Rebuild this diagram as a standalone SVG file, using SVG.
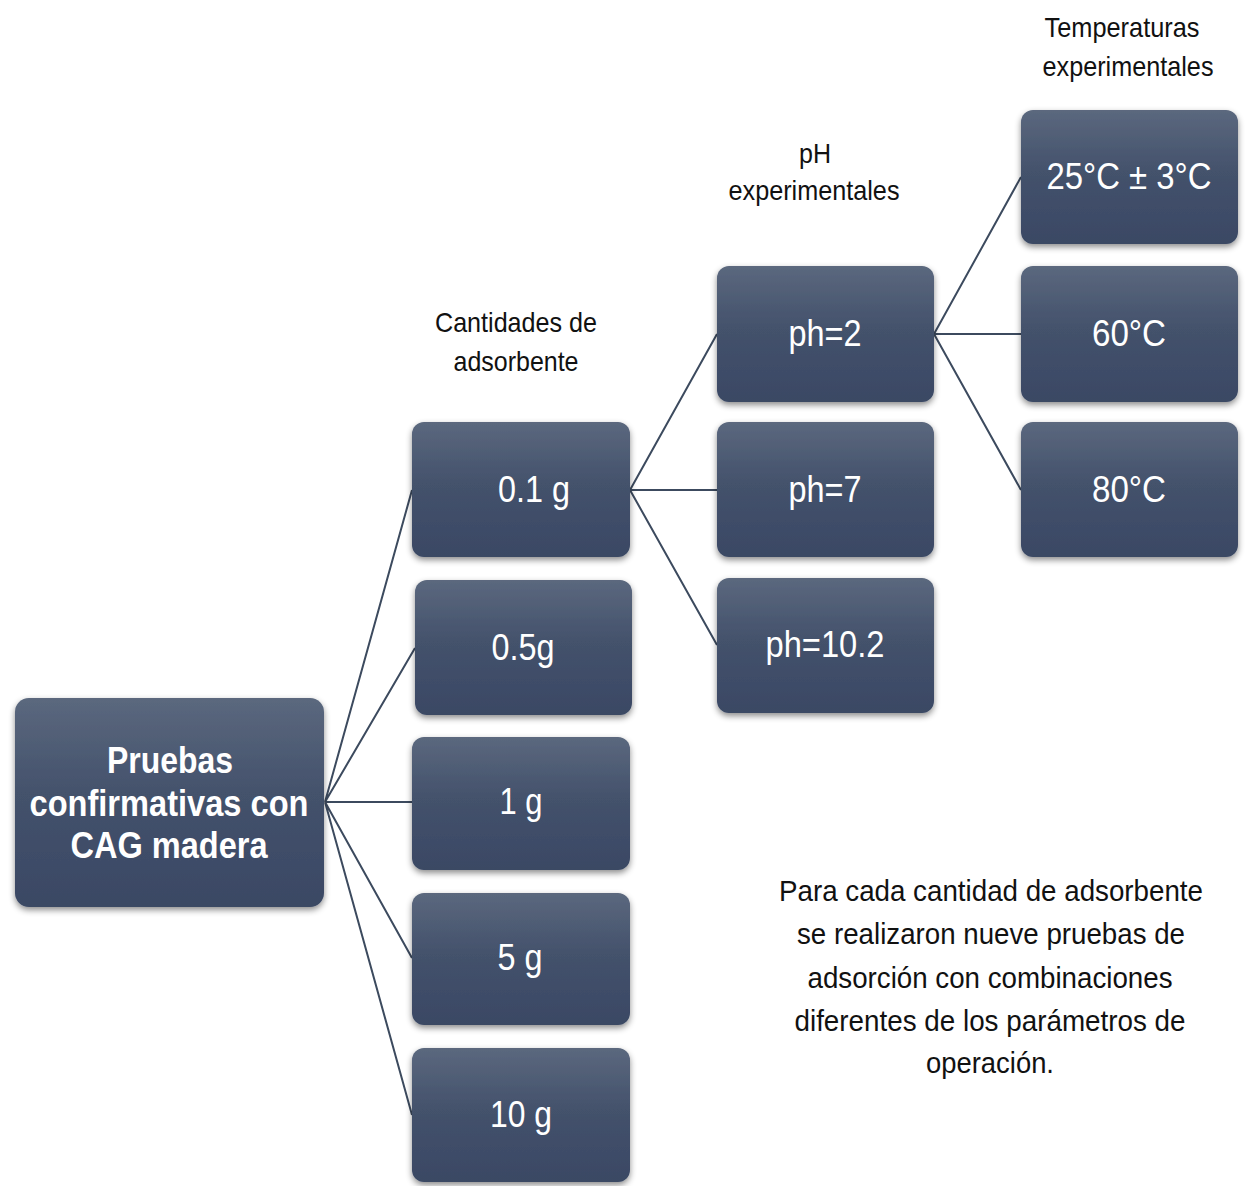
<svg xmlns="http://www.w3.org/2000/svg" width="1250" height="1186" viewBox="0 0 1250 1186">
<defs>
<linearGradient id="g" x1="0" y1="0" x2="0" y2="1">
<stop offset="0" stop-color="#5b687e"/>
<stop offset="0.45" stop-color="#44526c"/>
<stop offset="1" stop-color="#3a4864"/>
</linearGradient>
<filter id="sh" x="-10%" y="-10%" width="120%" height="125%">
<feDropShadow dx="0" dy="3" stdDeviation="3" flood-color="#000" flood-opacity="0.45"/>
</filter>
</defs>
<style>
.box{fill:url(#g);filter:url(#sh)}
.t{font-family:"Liberation Sans",Arial,sans-serif;fill:#fff;font-size:37px;text-anchor:middle}
.tb{font-family:"Liberation Sans",Arial,sans-serif;fill:#fff;font-size:37px;font-weight:bold;text-anchor:middle}
.l{font-family:"Liberation Sans",Arial,sans-serif;fill:#111;font-size:28px;text-anchor:middle}
.p{font-family:"Liberation Sans",Arial,sans-serif;fill:#111;font-size:30px;text-anchor:middle}
.c{stroke:#3c4a5e;stroke-width:2;fill:none}
</style>
<rect width="1250" height="1186" fill="#fff"/>
<g id="connectors">
<path class="c" d="M325 802 L412 490 M325 802 L415 648 M325 802 L412 802 M325 802 L412 958 M325 802 L412 1115"/>
<path class="c" d="M630 490 L717 334 M630 490 L717 490 M630 490 L717 645"/>
<path class="c" d="M934 334 L1021 177 M934 334 L1021 334 M934 334 L1021 490"/>
</g>
<g id="root">
<rect class="box" x="15" y="698" width="309" height="209" rx="14"/>
<text class="tb" x="170" y="773" textLength="126" lengthAdjust="spacingAndGlyphs">Pruebas</text>
<text class="tb" x="169" y="816" textLength="279" lengthAdjust="spacingAndGlyphs">confirmativas con</text>
<text class="tb" x="169" y="858" textLength="197" lengthAdjust="spacingAndGlyphs">CAG madera</text>
</g>
<g id="n01"><rect class="box" x="412" y="422" width="218" height="135" rx="12"/><text class="t" x="534" y="502" textLength="72" lengthAdjust="spacingAndGlyphs">0.1 g</text></g>
<g id="n05"><rect class="box" x="415" y="580" width="217" height="135" rx="12"/><text class="t" x="523" y="660" textLength="63" lengthAdjust="spacingAndGlyphs">0.5g</text></g>
<g id="n1"><rect class="box" x="412" y="737" width="218" height="133" rx="12"/><text class="t" x="521" y="814" textLength="43" lengthAdjust="spacingAndGlyphs">1 g</text></g>
<g id="n5"><rect class="box" x="412" y="893" width="218" height="132" rx="12"/><text class="t" x="520" y="970" textLength="45" lengthAdjust="spacingAndGlyphs">5 g</text></g>
<g id="n10"><rect class="box" x="412" y="1048" width="218" height="134" rx="12"/><text class="t" x="521" y="1127" textLength="62" lengthAdjust="spacingAndGlyphs">10 g</text></g>
<g id="ph2"><rect class="box" x="717" y="266" width="217" height="136" rx="12"/><text class="t" x="825" y="346" textLength="73" lengthAdjust="spacingAndGlyphs">ph=2</text></g>
<g id="ph7"><rect class="box" x="717" y="422" width="217" height="135" rx="12"/><text class="t" x="825" y="502" textLength="73" lengthAdjust="spacingAndGlyphs">ph=7</text></g>
<g id="ph102"><rect class="box" x="717" y="578" width="217" height="135" rx="12"/><text class="t" x="825" y="657" textLength="119" lengthAdjust="spacingAndGlyphs">ph=10.2</text></g>
<g id="t25"><rect class="box" x="1021" y="110" width="217" height="134" rx="12"/><text class="t" x="1129" y="189" textLength="165" lengthAdjust="spacingAndGlyphs">25°C ± 3°C</text></g>
<g id="t60"><rect class="box" x="1021" y="266" width="217" height="136" rx="12"/><text class="t" x="1129" y="346" textLength="74" lengthAdjust="spacingAndGlyphs">60°C</text></g>
<g id="t80"><rect class="box" x="1021" y="422" width="217" height="135" rx="12"/><text class="t" x="1129" y="502" textLength="74" lengthAdjust="spacingAndGlyphs">80°C</text></g>
<g id="labels">
<text class="l" x="516" y="332" textLength="162" lengthAdjust="spacingAndGlyphs">Cantidades de</text>
<text class="l" x="516" y="371" textLength="125" lengthAdjust="spacingAndGlyphs">adsorbente</text>
<text class="l" x="815" y="163" textLength="32" lengthAdjust="spacingAndGlyphs">pH</text>
<text class="l" x="814" y="200" textLength="171" lengthAdjust="spacingAndGlyphs">experimentales</text>
<text class="l" x="1122" y="37" textLength="155" lengthAdjust="spacingAndGlyphs">Temperaturas</text>
<text class="l" x="1128" y="76" textLength="171" lengthAdjust="spacingAndGlyphs">experimentales</text>
</g>
<g id="note">
<text class="p" x="991" y="901" textLength="424" lengthAdjust="spacingAndGlyphs">Para cada cantidad de adsorbente</text>
<text class="p" x="991" y="944" textLength="388" lengthAdjust="spacingAndGlyphs">se realizaron nueve pruebas de</text>
<text class="p" x="990" y="988" textLength="365" lengthAdjust="spacingAndGlyphs">adsorción con combinaciones</text>
<text class="p" x="990" y="1031" textLength="391" lengthAdjust="spacingAndGlyphs">diferentes de los parámetros de</text>
<text class="p" x="990" y="1073" textLength="128" lengthAdjust="spacingAndGlyphs">operación.</text>
</g>
</svg>
